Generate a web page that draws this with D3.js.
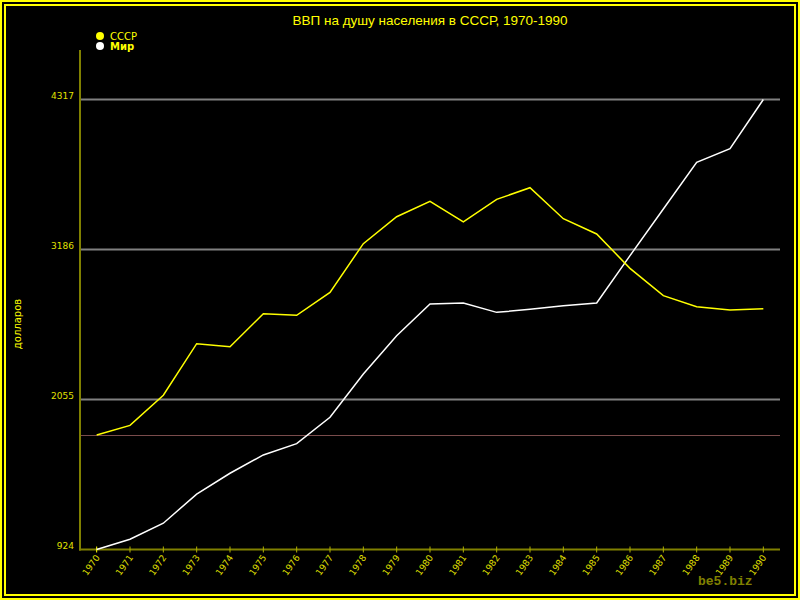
<!DOCTYPE html>
<html>
  <head>
    <meta charset="utf-8" />
    <title>ВВП на душу населения в СССР, 1970-1990</title>
    <script src="https://d3js.org/d3.v7.min.js"></script>
    <style>
      body { margin: 0; background: #000; }
      svg { display: block; }
    </style>
  </head>
  <body>
    <svg></svg>
    <script>
      // data
      var years = ["1970","1971","1972","1973","1974","1975","1976","1977","1978","1979","1980",
                   "1981","1982","1983","1984","1985","1986","1987","1988","1989","1990"];
      var ussr = [1787, 1860, 2087, 2476, 2453, 2702, 2690, 2863, 3230, 3433, 3549,
                  3394, 3564, 3652, 3418, 3303, 3044, 2838, 2755, 2730, 2740];
      var world = [924, 1001, 1122, 1342, 1499, 1637, 1722, 1921, 2247, 2536, 2775,
                   2783, 2712, 2735, 2762, 2783, 3140, 3491, 3843, 3946, 4317];
      var yTicks = [924, 2055, 3186, 4317];
      var seriesNames = ["СССР", "Мир"];

      var W = 800, H = 600;
      var svg = d3.select("svg").attr("width", W).attr("height", H);

      svg.append("rect").attr("width", W).attr("height", H).attr("fill", "#000");

      // double yellow frame
      svg.append("rect")
        .attr("x", 1).attr("y", 1).attr("width", 798).attr("height", 598)
        .attr("fill", "none").attr("stroke", "#ffff00").attr("stroke-width", 2);
      svg.append("rect")
        .attr("x", 5).attr("y", 5).attr("width", 790).attr("height", 590)
        .attr("fill", "none").attr("stroke", "#ffff00").attr("stroke-width", 2);

      var x = d3.scalePoint().domain(years).range([80, 780]).padding(0.5);
      var y = d3.scaleLinear().domain([924, 4317]).range([549.5, 99.5]);

      // title
      svg.append("text")
        .attr("x", 430).attr("y", 25)
        .attr("text-anchor", "middle")
        .attr("font-family", "Liberation Sans, Arial, sans-serif")
        .attr("font-size", 13.5)
        .attr("fill", "#ffff00")
        .text("ВВП на душу населения в СССР, 1970-1990");

      // grid lines
      svg.append("g")
        .selectAll("line")
        .data(yTicks.slice(1))
        .enter()
        .append("line")
        .attr("x1", 80).attr("x2", 780)
        .attr("y1", function (d) { return y(d); })
        .attr("y2", function (d) { return y(d); })
        .attr("stroke", "#808080")
        .attr("stroke-width", 2);

      // reference line at 1970 level
      svg.append("line")
        .attr("x1", 80).attr("x2", 780)
        .attr("y1", Math.round(y(ussr[0])) + 0.5).attr("y2", Math.round(y(ussr[0])) + 0.5)
        .attr("stroke", "#7a4c4c")
        .attr("stroke-width", 1);

      // y axis
      var gy = svg.append("g")
        .attr("transform", "translate(80,0)")
        .call(d3.axisLeft(y).tickValues(yTicks).tickSize(0).tickPadding(6).tickFormat(d3.format("d")));
      gy.select(".domain").remove();
      gy.selectAll("text")
        .attr("fill", "#e0e000")
        .attr("font-family", "DejaVu Sans, Verdana, sans-serif")
        .attr("font-size", 9)
        .attr("dy", "-0.1em");
      svg.append("line")
        .attr("x1", 80).attr("x2", 80).attr("y1", 50).attr("y2", 550.5)
        .attr("stroke", "#808000").attr("stroke-width", 2);

      // x axis
      var gx = svg.append("g")
        .attr("transform", "translate(0,549.5)")
        .call(d3.axisBottom(x).tickSize(0).tickPadding(0));
      gx.select(".domain").remove();
      svg.append("line")
        .attr("x1", 79).attr("x2", 780).attr("y1", 549.5).attr("y2", 549.5)
        .attr("stroke", "#808000").attr("stroke-width", 2);
      svg.append("g")
        .selectAll("line")
        .data(years)
        .enter()
        .append("line")
        .attr("x1", function (d) { return x(d); })
        .attr("x2", function (d) { return x(d); })
        .attr("y1", 546.5).attr("y2", 552.5)
        .attr("stroke", function (d, i) { return i == 0 ? "#ffff00" : "#b0b000"; })
        .attr("stroke-width", 1);
      gx.selectAll("text")
        .attr("fill", "#e0e000")
        .attr("font-family", "DejaVu Sans, Verdana, sans-serif")
        .attr("font-size", 9)
        .attr("text-anchor", "end")
        .attr("dy", 0)
        .attr("transform", "translate(3,8) rotate(-55)");

      // y axis label
      svg.append("text")
        .attr("transform", "translate(21,324) rotate(-90)")
        .attr("text-anchor", "middle")
        .attr("font-family", "DejaVu Sans, Verdana, sans-serif")
        .attr("font-size", 10)
        .attr("fill", "#ffff00")
        .text("долларов");

      // lines
      var line = d3.line()
        .x(function (d, i) { return x(years[i]); })
        .y(function (d) { return y(d); });

      svg.append("path")
        .datum(world)
        .attr("d", line)
        .attr("fill", "none")
        .attr("stroke", "#ffffff")
        .attr("stroke-width", 1.5);

      svg.append("path")
        .datum(ussr)
        .attr("d", line)
        .attr("fill", "none")
        .attr("stroke", "#ffff00")
        .attr("stroke-width", 1.5);

      // legend
      var colors = ["#ffff00", "#ffffff"];
      var legend = svg.append("g");
      seriesNames.forEach(function (name, i) {
        legend.append("circle")
          .attr("cx", 100).attr("cy", 36 + i * 10).attr("r", 4)
          .attr("fill", colors[i]);
        legend.append("text")
          .attr("x", 110).attr("y", 40 + i * 10)
          .attr("font-family", "DejaVu Sans, Verdana, sans-serif")
          .attr("font-size", 10)
          .attr("font-weight", i == 1 ? "bold" : "normal")
          .attr("fill", "#ffff00")
          .text(name);
      });

      // watermark
      svg.append("text")
        .attr("x", 698).attr("y", 585)
        .attr("font-family", "Liberation Mono, Courier New, monospace")
        .attr("font-size", 13)
        .attr("font-weight", "bold")
        .attr("fill", "#808000")
        .text("be5.biz");
    </script>
  </body>
</html>
